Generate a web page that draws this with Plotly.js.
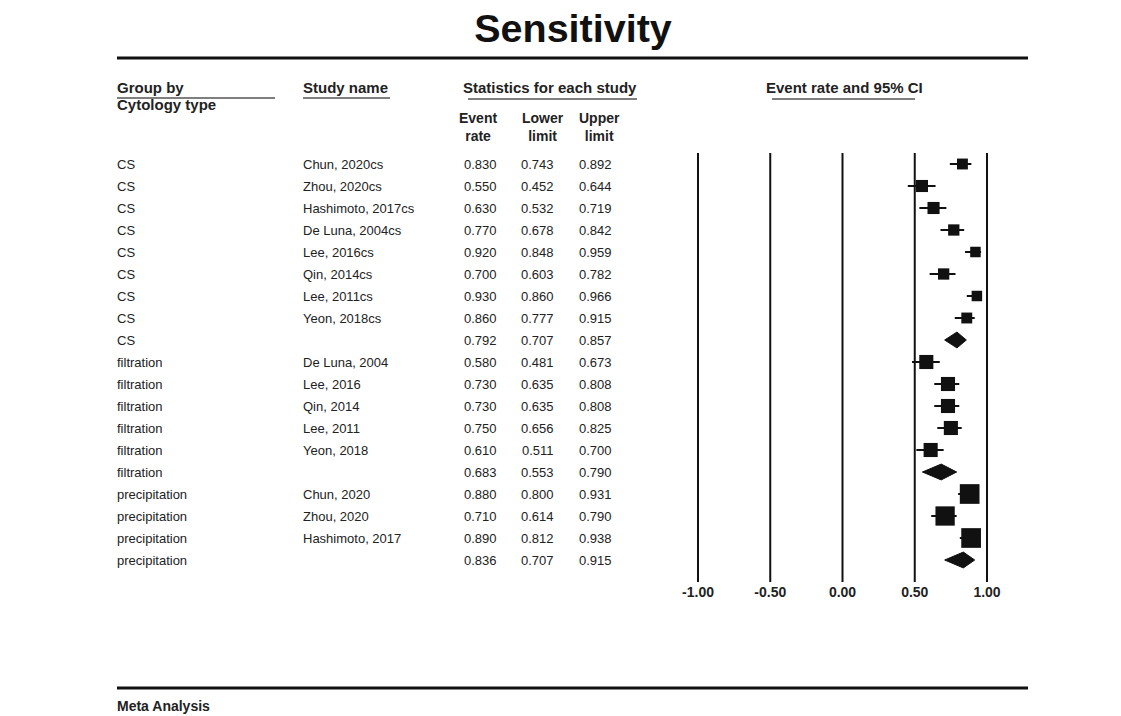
<!DOCTYPE html>
<html>
<head>
<meta charset="utf-8">
<script src="https://cdn.plot.ly/plotly-3.0.1.min.js"></script>
<style>html,body{margin:0;padding:0;background:#fff;}#chart{width:1121px;height:716px;}</style>
</head>
<body>
<div id="chart"></div>
<script>
// ---- data ----
const groups = ["CS","CS","CS","CS","CS","CS","CS","CS","CS",
  "filtration","filtration","filtration","filtration","filtration","filtration",
  "precipitation","precipitation","precipitation","precipitation"];
const studies = ["Chun, 2020cs","Zhou, 2020cs","Hashimoto, 2017cs","De Luna, 2004cs","Lee, 2016cs","Qin, 2014cs","Lee, 2011cs","Yeon, 2018cs","",
  "De Luna, 2004","Lee, 2016","Qin, 2014","Lee, 2011","Yeon, 2018","",
  "Chun, 2020","Zhou, 2020","Hashimoto, 2017",""];
const eventRate = [0.830,0.550,0.630,0.770,0.920,0.700,0.930,0.860,0.792,
  0.580,0.730,0.730,0.750,0.610,0.683,
  0.880,0.710,0.890,0.836];
const lowerLimit = [0.743,0.452,0.532,0.678,0.848,0.603,0.860,0.777,0.707,
  0.481,0.635,0.635,0.656,0.511,0.553,
  0.800,0.614,0.812,0.707];
const upperLimit = [0.892,0.644,0.719,0.842,0.959,0.782,0.966,0.915,0.857,
  0.673,0.808,0.808,0.825,0.700,0.790,
  0.931,0.790,0.938,0.915];
// relative (within-subgroup) weights
const relWeight = [11,14,14,12,10,12,10,11,0,
  19,19,19,19,19,0,
  33,32,33,0];
const axisTicks = [-1.00,-0.50,0.00,0.50,1.00];

// ---- helpers ----
const W = 1121, H = 716;
const px = x => x / W;
const py = y => 1 - y / H;
const FONT = "Liberation Sans, Arial, sans-serif";
const TXT = "#222";

const n = groups.length;
const studyIdx = [], sumIdx = [];
for (let i = 0; i < n; i++) (studies[i] ? studyIdx : sumIdx).push(i);

const traces = [];
// CI lines (drawn first, under the squares)
const ciX = [], ciY = [];
studyIdx.forEach(i => { ciX.push(lowerLimit[i], upperLimit[i], null); ciY.push(i, i, null); });
traces.push({
  type: "scatter", mode: "lines", xaxis: "x", yaxis: "y",
  x: ciX, y: ciY, line: {color: "#111", width: 2},
  hoverinfo: "skip", showlegend: false
});
// study squares
traces.push({
  type: "scatter", mode: "markers", xaxis: "x", yaxis: "y",
  x: studyIdx.map(i => eventRate[i]),
  y: studyIdx.map(i => i),
  marker: {symbol: "square", color: "#111", opacity: 1, size: studyIdx.map(i => 6.5 + 0.4 * relWeight[i]), line: {width: 0}},
  hoverinfo: "skip", showlegend: false
});
// summary diamonds
const hh = 0.36;
sumIdx.forEach(i => {
  traces.push({
    type: "scatter", mode: "lines", xaxis: "x", yaxis: "y",
    x: [lowerLimit[i], eventRate[i], upperLimit[i], eventRate[i], lowerLimit[i]],
    y: [i, i - hh, i, i + hh, i],
    fill: "toself", fillcolor: "#111", line: {color: "#111", width: 1},
    hoverinfo: "skip", showlegend: false
  });
});

const annotations = [];
const shapes = [];
function txt(text, x, y, opts) {
  annotations.push(Object.assign({
    text: text, x: x, y: y, xref: "paper", yref: "paper",
    showarrow: false, xanchor: "left", yanchor: "middle",
    font: {family: FONT, size: 13, color: TXT}
  }, opts || {}));
}
// table rows
for (let i = 0; i < n; i++) {
  txt(groups[i], px(115), i, {yref: "y"});
  if (studies[i]) txt(studies[i], px(301), i, {yref: "y"});
  txt(eventRate[i].toFixed(3), px(499), i, {yref: "y", xanchor: "right"});
  txt(lowerLimit[i].toFixed(3), px(556), i, {yref: "y", xanchor: "right"});
  txt(upperLimit[i].toFixed(3), px(614), i, {yref: "y", xanchor: "right"});
}
// headers
const hb = {family: FONT, size: 15, color: TXT};
const hc = {family: FONT, size: 14, color: TXT};
txt("<b>Group by</b>", px(115), py(88), {font: hb});
txt("<b>Cytology type</b>", px(115), py(105), {font: hb});
txt("<b>Study name</b>", px(301), py(88), {font: hb});
txt("<b>Statistics for each study</b>", px(550), py(88), {font: hb, xanchor: "center"});
txt("<b>Event rate and 95% CI</b>", px(844), py(88), {font: hb, xanchor: "center"});
txt("<b>Event</b><br><b>rate</b>", px(478), py(127), {font: hc, xanchor: "center"});
txt("<b>Lower</b><br><b>limit</b>", px(543), py(127), {font: hc, xanchor: "center"});
txt("<b>Upper</b><br><b>limit</b>", px(599), py(127), {font: hc, xanchor: "center"});
txt("<b>Meta Analysis</b>", px(115), py(706), {font: {family: FONT, size: 14, color: TXT}});

function hline(x0, x1, y, w, c) {
  shapes.push({type: "line", xref: "paper", yref: "paper", x0: px(x0), x1: px(x1), y0: py(y), y1: py(y),
    line: {color: c, width: w}});
}
hline(117, 1028, 58, 3, "#111");
hline(117, 1028, 688, 3, "#111");
hline(117, 275, 98, 1.3, "#555");
hline(303, 390, 98, 1.3, "#555");
hline(468, 637, 99, 1.3, "#555");
hline(772, 915, 99, 1.3, "#555");

// vertical reference lines at tick values
axisTicks.forEach(t => {
  shapes.push({type: "line", xref: "x", yref: "paper", x0: t, x1: t, y0: py(582), y1: py(153),
    line: {color: "#111", width: 2}, layer: "below"});
});

const layout = {
  width: W, height: H,
  margin: {l: 0, r: 0, t: 0, b: 0},
  paper_bgcolor: "#fff", plot_bgcolor: "rgba(0,0,0,0)",
  title: {text: "<b>Sensitivity</b>", x: px(573), y: py(28), xref: "paper", yref: "paper",
    xanchor: "center", yanchor: "middle", font: {family: FONT, size: 39.5, color: "#111"}},
  xaxis: {domain: [px(698 - 0.2 * 144.5), px(987 + 0.2 * 144.5)], range: [-1.2, 1.2],
    showgrid: false, zeroline: false, showline: false, ticks: "",
    tickmode: "array", tickvals: axisTicks, ticktext: axisTicks.map(t => "<b>" + t.toFixed(2) + "</b>"),
    tickfont: {family: FONT, size: 14, color: TXT}, fixedrange: true},
  yaxis: {domain: [py(582), py(153)], range: [19, -0.5], showgrid: false, zeroline: false,
    showline: false, showticklabels: false, ticks: "", fixedrange: true},
  annotations: annotations,
  shapes: shapes,
  showlegend: false
};

Plotly.newPlot("chart", traces, layout, {displayModeBar: false, staticPlot: true});
</script>
</body>
</html>
